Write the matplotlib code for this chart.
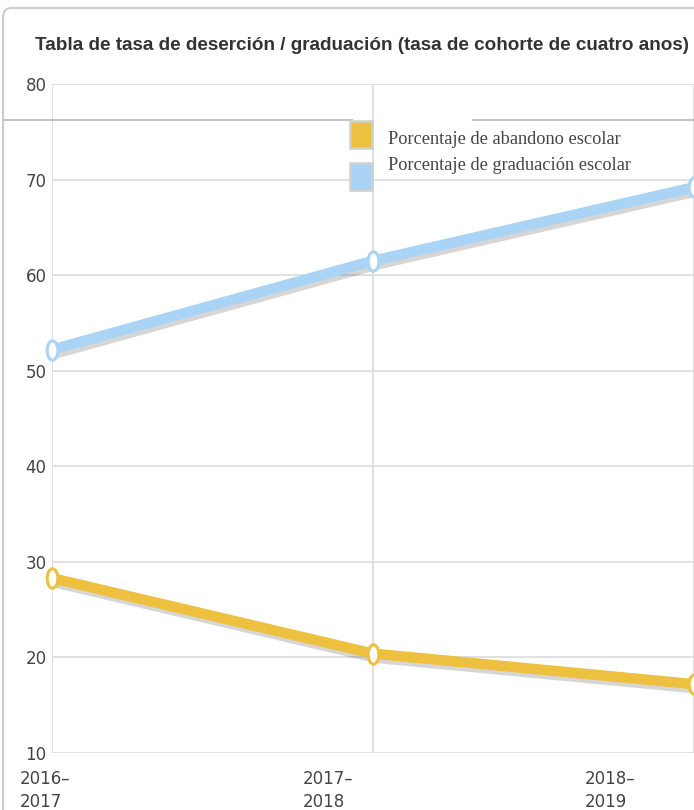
import numpy as np
import matplotlib
matplotlib.use("Agg")
import matplotlib.pyplot as plt
import matplotlib.patheffects as pe
import matplotlib.transforms as mtransforms
from matplotlib.path import Path
from matplotlib.transforms import Affine2D
from matplotlib.patches import FancyBboxPatch, Rectangle
from matplotlib.lines import Line2D

# data
years = ['2016–\n2017', '2017–\n2018', '2018–\n2019']
abandono = [28.3, 20.4, 17.2]
graduacion = [52.2, 61.5, 69.2]
yticks = [10, 20, 30, 40, 50, 60, 70, 80]
serie_names = ['Porcentaje de abandono escolar', 'Porcentaje de graduación escolar']

col_aband = '#EEC03F'
col_grad = '#AAD4F6'

W, H = 694, 810
fig = plt.figure(figsize=(W / 100, H / 100), dpi=100)
fig.patch.set_facecolor('white')

def fx(px):
    return px / W

def fy(py):
    return 1 - py / H

# card border (only top-left part visible)
card = FancyBboxPatch((fx(3), fy(900)), fx(800), (900 - 8) / H,
                      boxstyle='round,pad=0,rounding_size=0.012',
                      transform=fig.transFigure, fill=False,
                      edgecolor='#cccccc', lw=1.5)
fig.patches.append(card)

fig.text(fx(35), fy(45), 'Tabla de tasa de deserción / graduación (tasa de cohorte de cuatro anos)',
         fontsize=13.6, fontweight='bold', color='#333333', va='center', ha='left',
         family='Liberation Sans')

ax = fig.add_axes([fx(52), fy(753), fx(694 - 52), (753 - 84) / H])
x = np.arange(len(years))

for s in ax.spines.values():
    s.set_visible(False)
ax.set_yticks(yticks)
ax.set_yticklabels([str(v) for v in yticks])
ax.set_xticks(x)
ax.set_xticklabels([])
ax.grid(True, color='#dcdcdc', lw=1.2)
ax.tick_params(axis='both', which='major', length=0)
ax.tick_params(axis='y', labelsize=12, labelcolor='#444444', pad=4)
ax.set_axisbelow(True)
ax.set_xlim(0, 2)
ax.set_ylim(10, 80)

# x labels sit left of the category points
trans = mtransforms.blended_transform_factory(ax.transData, ax.transAxes)
for xi, lab in zip(x, years):
    ax.text(xi * 0.88 - 0.10, -0.025, lab, transform=trans, ha='left', va='top',
            fontsize=12, color='#444444', linespacing=1.4, clip_on=False)

oval = Path.unit_circle().transformed(Affine2D().scale(0.55, 1.0))
shadow = [pe.SimpleLineShadow(offset=(1.5, -3), shadow_color='black', alpha=0.16),
          pe.Normal()]

for vals, col in [(graduacion, col_grad), (abandono, col_aband)]:
    ax.plot(x, vals, color=col, lw=7.5, solid_capstyle='round', zorder=3,
            path_effects=shadow, clip_on=False)
    ax.plot(x, vals, ls='none', marker=oval, ms=14, mfc='white', mec=col,
            mew=2.2, zorder=4, clip_on=False)

# stray separator line across the card
for x0, x1 in [(3, 352), (473, 694)]:
    fig.add_artist(Line2D([fx(x0), fx(x1)], [fy(120), fy(120)],
                          transform=fig.transFigure, color='#c4c4c4', lw=1.5))

# legend
for i, (name, col) in enumerate(zip(serie_names, [col_aband, col_grad])):
    top = 121 + i * 42
    fig.patches.append(Rectangle((fx(350), fy(top + 27)), fx(22), 27 / H,
                                 transform=fig.transFigure, facecolor=col,
                                 edgecolor='#cfcfcf', lw=1.8, zorder=5))
    fig.text(fx(388), fy(140 + i * 26), name, fontsize=13.2, color='#444444',
             va='center', ha='left', family='Liberation Serif', zorder=6)

fig.savefig('out.png', dpi=100, facecolor='white')
